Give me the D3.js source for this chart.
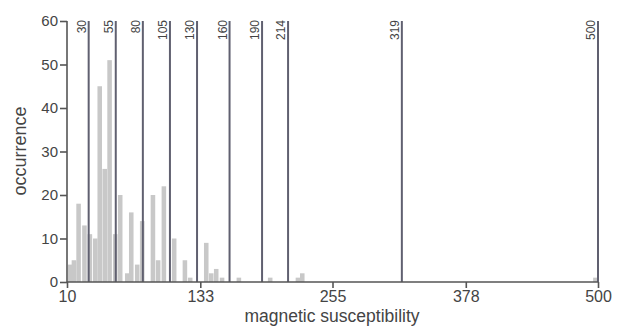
<!DOCTYPE html>
<html>
<head>
<meta charset="utf-8">
<script src="https://cdn.jsdelivr.net/npm/d3@7"></script>
<style>
  body { margin: 0; background: #fff; }
  text { font-family: "Liberation Sans", Arial, sans-serif; fill: #444; }
</style>
</head>
<body>
<svg id="chart" width="618" height="327"></svg>
<script>
// data
var binStart = [10.9, 14.3, 18.6, 24, 29, 34, 38.1, 42.7, 47.2, 52.4, 57, 63.5, 67.2, 72.7, 77.3,
                87.2, 92, 97.3, 106.8, 116.7, 121.6, 136.4, 141, 145.6, 151, 166.5, 195.4, 221, 225, 495.5];
var counts   = [4, 5, 18, 13, 11, 10, 45, 26, 51, 11, 20, 2, 16, 4, 14,
                20, 5, 22, 10, 5, 1, 9, 2, 3, 1, 1, 1, 1, 2, 1];
var binWidth = 4.2;
var cuts = [30, 55, 80, 105, 130, 160, 190, 214, 319, 500]; // vertical threshold lines
var xTicks = [10, 133, 255, 378, 500];
var yTicks = [0, 10, 20, 30, 40, 50, 60];

var svg = d3.select('#chart');

var x = d3.scaleLinear().domain([10, 500]).range([67, 598]);
var y = d3.scaleLinear().domain([0, 60]).range([282, 21]);

// bars
svg.append('g').selectAll('rect')
  .data(binStart)
  .join('rect')
  .attr('x', function(d){ return x(d); })
  .attr('width', function(d){ return x(d + binWidth) - x(d); })
  .attr('y', function(d, i){ return y(counts[i]); })
  .attr('height', function(d, i){ return y(0) - y(counts[i]); })
  .attr('fill', '#c8c8c8');

// threshold lines + their rotated labels
var cutG = svg.append('g');
cutG.selectAll('line')
  .data(cuts)
  .join('line')
  .attr('x1', function(d){ return x(d); })
  .attr('x2', function(d){ return x(d); })
  .attr('y1', y(60))
  .attr('y2', y(0))
  .attr('stroke', '#606070')
  .attr('stroke-width', 2);

cutG.selectAll('text')
  .data(cuts)
  .join('text')
  .attr('transform', function(d){ return 'translate(' + (x(d) - 3) + ',' + (y(60) - 1) + ') rotate(-90)'; })
  .attr('text-anchor', 'end')
  .style('font-size', '12px')
  .text(function(d){ return d; });

// axes
var xAxis = d3.axisBottom(x).tickValues(xTicks).tickSize(6).tickPadding(3).tickFormat(d3.format('d'));
var yAxis = d3.axisLeft(y).tickValues(yTicks).tickSize(7).tickPadding(2);

var gx = svg.append('g').attr('transform', 'translate(0,' + y(0) + ')').call(xAxis);
var gy = svg.append('g').attr('transform', 'translate(' + x(10) + ',0)').call(yAxis);

[gx, gy].forEach(function(g){
  g.select('.domain').attr('stroke', '#555').attr('stroke-width', 1.6);
  g.selectAll('.tick line').attr('stroke', '#555').attr('stroke-width', 1.6);
  g.selectAll('.tick text').attr('fill', '#444')
    .style('font-family', '"Liberation Sans", Arial, sans-serif');
});
gx.selectAll('.tick text').style('font-size', '16px');
gy.selectAll('.tick text').style('font-size', '15px');
gy.select('.domain').attr('d', 'M0,' + y(60) + 'V' + y(0));
gx.select('.domain').attr('d', 'M' + x(10) + ',0H' + x(500));

// titles
svg.append('text')
  .attr('x', 332)
  .attr('y', 322)
  .attr('text-anchor', 'middle')
  .style('font-size', '17.5px')
  .text('magnetic susceptibility');

svg.append('text')
  .attr('transform', 'translate(26,151) rotate(-90)')
  .attr('text-anchor', 'middle')
  .style('font-size', '18px')
  .text('occurrence');
</script>
</body>
</html>
